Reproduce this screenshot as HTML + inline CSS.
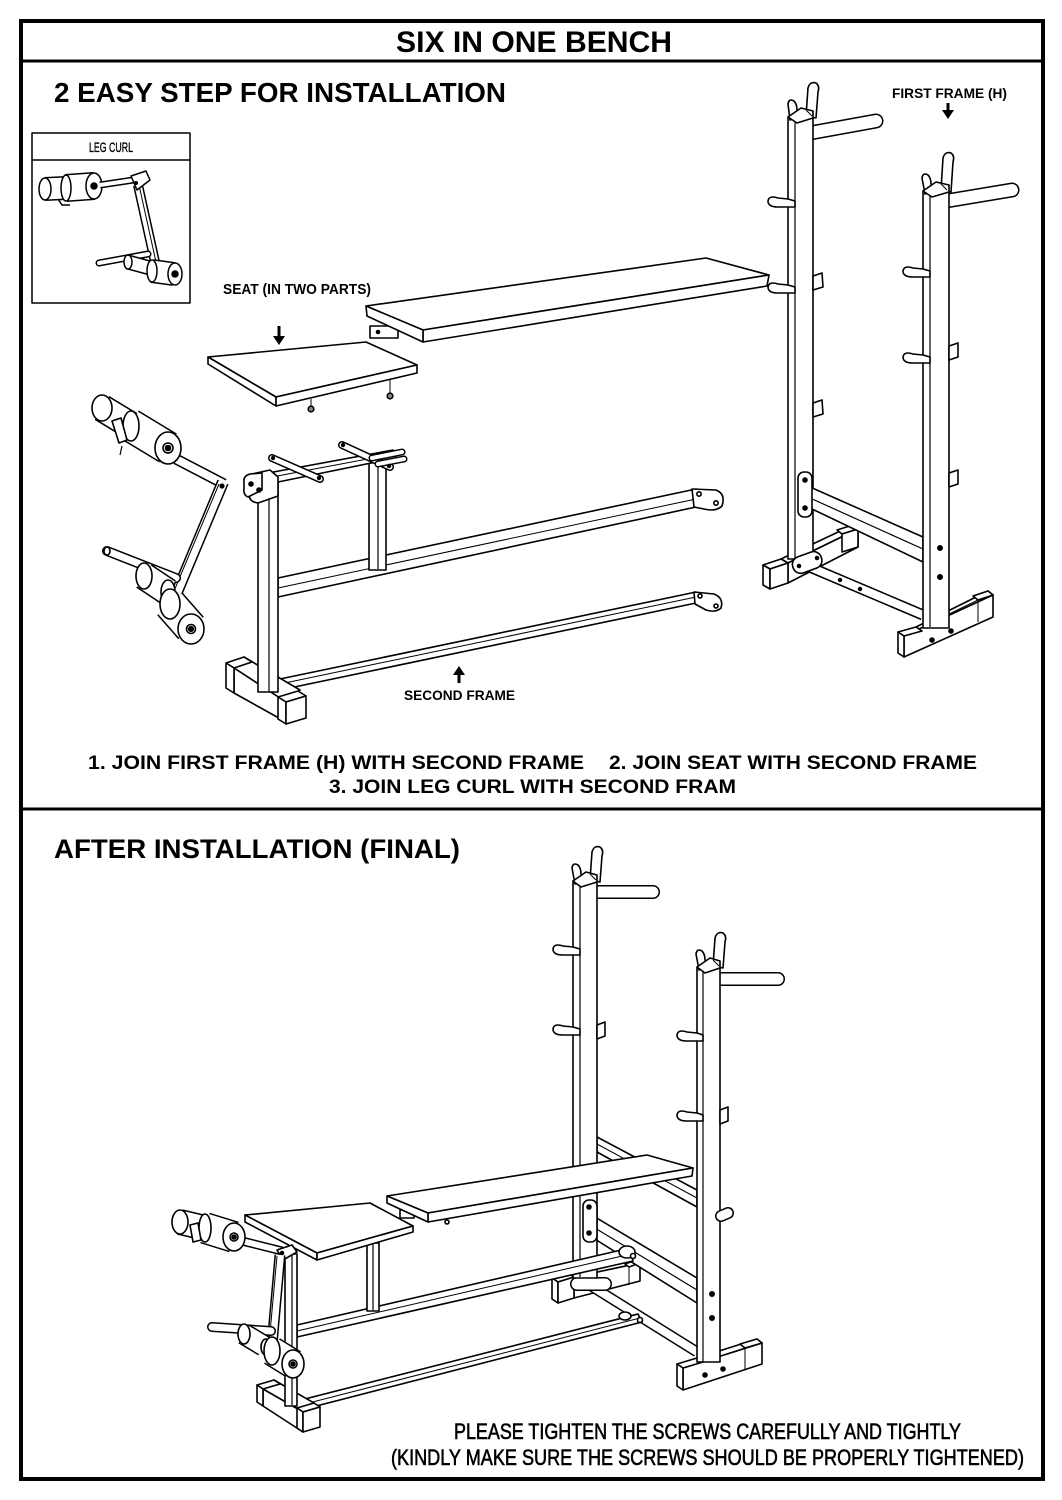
<!DOCTYPE html>
<html><head><meta charset="utf-8">
<style>
html,body{margin:0;padding:0;background:#fff;}
svg{display:block}
text{font-family:"Liberation Sans",Arial,sans-serif;fill:#000}
</style></head>
<body>
<svg width="1062" height="1500" viewBox="0 0 1062 1500" xmlns="http://www.w3.org/2000/svg">
<rect width="1062" height="1500" fill="#fff"/>
<rect x="21" y="21" width="1022" height="1458" fill="none" stroke="#000" stroke-width="4"/>
<line x1="21" y1="61" x2="1043" y2="61" stroke="#000" stroke-width="3"/>
<line x1="21" y1="809" x2="1043" y2="809" stroke="#000" stroke-width="3"/>

<!-- TEXT -->
<text x="396" y="52" font-size="30" font-weight="bold" textLength="276" lengthAdjust="spacingAndGlyphs">SIX IN ONE BENCH</text>
<text x="54" y="102" font-size="28" font-weight="bold" textLength="452" lengthAdjust="spacingAndGlyphs">2 EASY STEP FOR INSTALLATION</text>
<text x="89" y="152" font-size="14" stroke="#000" stroke-width="0.35" textLength="44" lengthAdjust="spacingAndGlyphs">LEG CURL</text>
<text x="223" y="294" font-size="15" font-weight="bold" textLength="148" lengthAdjust="spacingAndGlyphs">SEAT (IN TWO PARTS)</text>
<text x="892" y="98" font-size="14" font-weight="bold" textLength="115" lengthAdjust="spacingAndGlyphs">FIRST FRAME (H)</text>
<text x="404" y="700" font-size="14" font-weight="bold" textLength="111" lengthAdjust="spacingAndGlyphs">SECOND FRAME</text>
<text x="88" y="769" font-size="19" font-weight="bold" textLength="496" lengthAdjust="spacingAndGlyphs">1.  JOIN FIRST FRAME (H) WITH SECOND FRAME</text>
<text x="609" y="769" font-size="19" font-weight="bold" textLength="368" lengthAdjust="spacingAndGlyphs">2. JOIN SEAT WITH SECOND FRAME</text>
<text x="329" y="793" font-size="19" font-weight="bold" textLength="407" lengthAdjust="spacingAndGlyphs">3. JOIN LEG CURL WITH SECOND FRAM</text>
<text x="54" y="858" font-size="27" font-weight="bold" textLength="406" lengthAdjust="spacingAndGlyphs">AFTER INSTALLATION (FINAL)</text>
<text x="454" y="1439" font-size="22" stroke="#000" stroke-width="0.6" textLength="507" lengthAdjust="spacingAndGlyphs">PLEASE TIGHTEN THE SCREWS CAREFULLY AND TIGHTLY</text>
<text x="391" y="1465" font-size="22" stroke="#000" stroke-width="0.6" textLength="633" lengthAdjust="spacingAndGlyphs">(KINDLY MAKE SURE THE SCREWS SHOULD BE PROPERLY TIGHTENED)</text>

<!-- arrows -->
<g fill="#000" stroke="none">
<rect x="277.5" y="326" width="3" height="12"/><polygon points="273,336 285,336 279,345"/>
<rect x="946.5" y="103" width="3" height="9"/><polygon points="942,110 954,110 948,119"/>
<polygon points="453,675 465,675 459,666"/><rect x="457.5" y="673" width="3" height="10"/>
</g>

<!-- LEG CURL INSET -->
<g fill="#fff" stroke="#000" stroke-width="1.5" stroke-linejoin="round">
<rect x="32" y="133" width="158" height="170" fill="none"/>
<line x1="32" y1="160" x2="190" y2="160"/>
<line x1="45" y1="189" x2="66" y2="188" stroke-width="24"/>
<line x1="45" y1="189" x2="66" y2="188" stroke="#fff" stroke-width="21"/>
<ellipse cx="45" cy="189" rx="6" ry="11"/>
<line x1="66" y1="188" x2="94" y2="186" stroke-width="28"/>
<line x1="66" y1="188" x2="94" y2="186" stroke="#fff" stroke-width="25"/>
<ellipse cx="66" cy="188" rx="5" ry="13"/>
<ellipse cx="94" cy="186" rx="8" ry="13"/>
<circle cx="94" cy="186" r="3" fill="#000"/>
<polyline points="58,199 62,205 70,205" fill="none"/>
<line x1="100" y1="185" x2="140" y2="179" stroke-width="7"/>
<line x1="100" y1="185" x2="140" y2="179" stroke="#fff" stroke-width="4"/>
<line x1="138" y1="185" x2="155" y2="262" stroke-width="10"/>
<line x1="138" y1="185" x2="155" y2="262" stroke="#fff" stroke-width="7"/>
<line x1="139" y1="185" x2="156" y2="262" stroke-width="1"/>
<polygon points="131,176 146,171 150,180 137,190"/>
<circle cx="136" cy="183" r="1.3" fill="#000"/>
<line x1="99" y1="263" x2="148" y2="254" stroke-width="7" stroke-linecap="round"/>
<line x1="99" y1="263" x2="148" y2="254" stroke="#fff" stroke-width="4" stroke-linecap="round"/>
<line x1="128" y1="262" x2="150" y2="268" stroke-width="15"/>
<line x1="128" y1="262" x2="150" y2="268" stroke="#fff" stroke-width="12"/>
<ellipse cx="128" cy="262" rx="4" ry="7"/>
<line x1="152" y1="271" x2="174" y2="274" stroke-width="24"/>
<line x1="152" y1="271" x2="174" y2="274" stroke="#fff" stroke-width="21"/>
<ellipse cx="152" cy="271" rx="5" ry="11"/>
<ellipse cx="175" cy="274" rx="7" ry="11"/>
<circle cx="175" cy="274" r="3" fill="#000"/>
</g>

<!-- TOP SECTION DRAWING -->
<g fill="#fff" stroke="#000" stroke-width="1.6" stroke-linejoin="round">

<!-- long seat -->
<rect x="370" y="326" width="28" height="12"/>
<circle cx="378" cy="332" r="1.5" fill="#000"/>
<polygon points="366,306 706,258 769,275 423,330"/>
<polygon points="423,330 769,275 767,286 423,342"/>
<polygon points="366,306 423,330 423,342 367,316"/>

<!-- small seat -->
<polygon points="208,357 366,342 417,365 276,397"/>
<polygon points="208,357 276,397 276,406 208,364"/>
<polygon points="276,397 417,365 417,373 276,406"/>
<line x1="311" y1="399" x2="311" y2="406" stroke-width="1"/>
<circle cx="311" cy="409" r="2.8" fill="#888"/>
<line x1="390" y1="380" x2="390" y2="393" stroke-width="1"/>
<circle cx="390" cy="396" r="2.8" fill="#888"/>

<!-- big leg curl -->
<line x1="102" y1="408" x2="130" y2="425" stroke-width="28"/>
<line x1="102" y1="408" x2="130" y2="425" stroke="#fff" stroke-width="25"/>
<ellipse cx="102" cy="408" rx="10" ry="13"/>
<line x1="130" y1="425" x2="168" y2="448" stroke-width="34"/>
<line x1="130" y1="425" x2="168" y2="448" stroke="#fff" stroke-width="31"/>
<ellipse cx="131" cy="426" rx="8" ry="15"/>
<polygon points="112,421 121,418 127,440 119,443"/>
<line x1="122" y1="446" x2="120" y2="455" stroke-width="1.2"/>
<line x1="176" y1="459" x2="224" y2="484" stroke-width="11"/>
<line x1="176" y1="459" x2="224" y2="484" stroke="#fff" stroke-width="8"/>
<ellipse cx="168" cy="448" rx="13" ry="16"/>
<circle cx="168" cy="448" r="5"/>
<circle cx="168" cy="448" r="2.5" fill="#000"/>
<line x1="223" y1="482" x2="177" y2="592" stroke-width="12"/>
<line x1="223" y1="482" x2="177" y2="592" stroke="#fff" stroke-width="9"/>
<line x1="219" y1="484" x2="174" y2="591" stroke-width="1"/>
<circle cx="222" cy="486" r="1.8" fill="#000"/>
<line x1="107" y1="551" x2="176" y2="578" stroke-width="10" stroke-linecap="round"/>
<line x1="107" y1="551" x2="176" y2="578" stroke="#fff" stroke-width="7" stroke-linecap="round"/>
<ellipse cx="107" cy="551" rx="3" ry="4"/>
<line x1="144" y1="576" x2="168" y2="592" stroke-width="28"/>
<line x1="144" y1="576" x2="168" y2="592" stroke="#fff" stroke-width="25"/>
<ellipse cx="144" cy="576" rx="8" ry="13"/>
<ellipse cx="168" cy="592" rx="7" ry="12"/>
<line x1="170" y1="604" x2="191" y2="628" stroke-width="34"/>
<line x1="170" y1="604" x2="191" y2="628" stroke="#fff" stroke-width="31"/>
<ellipse cx="170" cy="604" rx="10" ry="15"/>
<ellipse cx="191" cy="629" rx="13" ry="15"/>
<circle cx="191" cy="629" r="4.5"/>
<circle cx="191" cy="629" r="2.3" fill="#000"/>

<!-- second frame (top) -->
<polygon points="278,578 696,489 696,507 278,597"/>
<line x1="278" y1="588" x2="696" y2="499" stroke-width="1"/>
<path d="M692,489 L716,490 Q726,494 722,506 Q716,512 704,509 L694,507 Z"/>
<circle cx="699" cy="494" r="2.2"/><circle cx="716" cy="503" r="2.2"/>
<polygon points="280,679 696,592 696,603 280,690"/>
<line x1="280" y1="684" x2="696" y2="597" stroke-width="1"/>
<path d="M694,592 L714,594 Q724,598 721,608 Q716,613 706,610 L695,604 Z"/>
<circle cx="700" cy="596" r="2"/><circle cx="716" cy="606" r="2"/>
<!-- foot -->
<polygon points="244,657 300,690 286,702 234,668"/>
<polygon points="234,668 286,702 286,722 234,693"/>
<polygon points="226,663 244,657 252,662 234,668"/>
<polygon points="226,663 234,668 234,693 226,688"/>
<polygon points="278,697 298,691 306,696 286,702"/>
<polygon points="278,697 286,702 286,724 278,719"/>
<polygon points="286,702 306,696 306,718 286,724"/>
<!-- posts -->
<rect x="258" y="477" width="20" height="215"/>
<line x1="269" y1="479" x2="269" y2="692" stroke-width="1.2"/>
<rect x="369" y="460" width="17" height="110"/>
<line x1="378" y1="461" x2="378" y2="569" stroke-width="1.2"/>
<!-- top rail -->
<polygon points="268,473 393,450 396,458 278,482"/>
<line x1="272" y1="477" x2="394" y2="454" stroke-width="1"/>
<line x1="342" y1="445" x2="390" y2="467" stroke-width="8" stroke-linecap="round"/>
<line x1="342" y1="445" x2="390" y2="467" stroke="#fff" stroke-width="5" stroke-linecap="round"/>
<line x1="372" y1="458" x2="402" y2="452" stroke-width="7" stroke-linecap="round"/>
<line x1="372" y1="458" x2="402" y2="452" stroke="#fff" stroke-width="4" stroke-linecap="round"/>
<line x1="378" y1="464" x2="404" y2="459" stroke-width="7" stroke-linecap="round"/>
<line x1="378" y1="464" x2="404" y2="459" stroke="#fff" stroke-width="4" stroke-linecap="round"/>
<line x1="272" y1="458" x2="320" y2="479" stroke-width="8" stroke-linecap="round"/>
<line x1="272" y1="458" x2="320" y2="479" stroke="#fff" stroke-width="5" stroke-linecap="round"/>
<circle cx="273" cy="458" r="1.4" fill="#000"/><circle cx="319" cy="478" r="1.4" fill="#000"/>
<circle cx="343" cy="445" r="1.4" fill="#000"/><circle cx="389" cy="466" r="1.4" fill="#000"/>
<!-- brackets -->
<path d="M252,474 L270,470 L278,477 L278,496 L258,503 Q249,502 249,494 Z"/>
<path d="M244,482 Q243,476 250,474 L262,473 L262,490 L248,497 Q243,495 244,488 Z"/>
<circle cx="251" cy="484" r="2" fill="#000"/><circle cx="259" cy="490" r="2" fill="#000"/>

<!-- FIRST FRAME H (top) -->
<polygon points="781,559 853,525 858,529 788,563"/>
<polygon points="788,563 858,529 858,547 788,583"/>
<polygon points="763,565 781,559 788,563 770,569"/>
<polygon points="763,565 770,569 770,589 763,585"/>
<polygon points="770,569 788,563 788,583 770,589"/>
<polygon points="837,530 853,525 858,529 842,534"/>
<polygon points="842,534 858,529 858,547 842,552"/>
<line x1="810" y1="133" x2="876" y2="121" stroke-width="15" stroke-linecap="round"/>
<line x1="810" y1="133" x2="876" y2="121" stroke="#fff" stroke-width="12" stroke-linecap="round"/>
<line x1="946" y1="201" x2="1012" y2="190" stroke-width="15" stroke-linecap="round"/>
<line x1="946" y1="201" x2="1012" y2="190" stroke="#fff" stroke-width="12" stroke-linecap="round"/>
<rect x="788" y="117" width="25" height="442"/>
<line x1="795" y1="118" x2="795" y2="558" stroke-width="1.2"/>
<path d="M790,120 L788,104 Q789,98 794,101 Q797,104 797,110 L800,116 Z"/>
<path d="M806,116 L808,88 Q810,81 816,83 Q820,86 818,92 L816,118 Z"/>
<polygon points="788,117 801,108 813,111 813,118 797,123"/>
<line x1="806" y1="110" x2="812" y2="116" stroke-width="1"/>
<path d="M788,199 L778,198 Q769,195 768,201 Q768,207 778,207 L795,207 L795,201 Z"/>
<path d="M788,285 L778,284 Q769,281 768,287 Q768,293 778,293 L795,293 L795,287 Z"/>
<polygon points="813,276 822,273 823,287 813,290"/>
<polygon points="813,403 822,400 823,414 813,417"/>
<polygon points="810,487 923,537 923,562 810,508"/>
<line x1="810" y1="498" x2="923" y2="549" stroke-width="1.2"/>
<rect x="798" y="472" width="14" height="45" rx="6"/>
<circle cx="805" cy="480" r="2" fill="#000"/><circle cx="805" cy="508" r="2" fill="#000"/>
<line x1="805" y1="565" x2="923" y2="615" stroke-width="11"/>
<line x1="805" y1="565" x2="923" y2="615" stroke="#fff" stroke-width="8"/>
<circle cx="840" cy="580" r="1.4" fill="#000"/><circle cx="860" cy="589" r="1.4" fill="#000"/>
<rect x="792" y="554" width="30" height="17" rx="8" transform="rotate(-20 807 562)"/>
<circle cx="799" cy="566" r="1.5" fill="#000"/><circle cx="817" cy="558" r="1.5" fill="#000"/>
<polygon points="916,627 988,591 993,595 922,631"/>
<polygon points="904,636 993,595 993,617 904,657"/>
<line x1="904" y1="636" x2="978" y2="600" stroke-width="1"/>
<polygon points="898,632 916,627 922,631 904,636"/>
<polygon points="898,632 904,636 904,657 898,653"/>
<polygon points="973,596 988,591 993,595 978,600"/>
<line x1="978" y1="600" x2="978" y2="622" stroke-width="1"/>
<circle cx="932" cy="640" r="2" fill="#000"/><circle cx="951" cy="631" r="2" fill="#000"/>
<rect x="923" y="191" width="26" height="437"/>
<line x1="930" y1="192" x2="930" y2="627" stroke-width="1.2"/>
<path d="M925,194 L922,178 Q923,172 928,175 Q931,178 931,184 L934,190 Z"/>
<path d="M941,190 L943,158 Q945,151 951,153 Q955,156 953,162 L951,192 Z"/>
<polygon points="923,191 936,182 949,185 949,192 932,197"/>
<line x1="941" y1="184" x2="947" y2="190" stroke-width="1"/>
<path d="M923,269 L913,268 Q904,265 903,271 Q903,277 913,277 L930,277 L930,271 Z"/>
<path d="M923,355 L913,354 Q904,351 903,357 Q903,363 913,363 L930,363 L930,357 Z"/>
<polygon points="949,346 958,343 958,357 949,360"/>
<polygon points="949,473 958,470 958,484 949,487"/>
<circle cx="940" cy="548" r="2.2" fill="#000"/><circle cx="940" cy="577" r="2.2" fill="#000"/>
</g>

<!-- BOTTOM SECTION DRAWING -->
<g fill="#fff" stroke="#000" stroke-width="1.6" stroke-linejoin="round">
<line x1="595" y1="892" x2="653" y2="892" stroke-width="14" stroke-linecap="round"/>
<line x1="595" y1="892" x2="653" y2="892" stroke="#fff" stroke-width="11" stroke-linecap="round"/>
<line x1="718" y1="979" x2="778" y2="979" stroke-width="14" stroke-linecap="round"/>
<line x1="718" y1="979" x2="778" y2="979" stroke="#fff" stroke-width="11" stroke-linecap="round"/>
<polygon points="568,1273 636,1260 640,1263 574,1277"/>
<polygon points="574,1277 640,1263 640,1281 574,1298"/>
<polygon points="552,1278 568,1273 574,1277 558,1282"/>
<polygon points="552,1278 558,1282 558,1303 552,1299"/>
<polygon points="558,1282 574,1277 574,1298 558,1303"/>
<polygon points="625,1264 636,1260 640,1263 629,1267"/>
<line x1="629" y1="1267" x2="629" y2="1285" stroke-width="1"/>
<polygon points="597,1137 697,1190 697,1207 597,1152"/>
<line x1="597" y1="1144" x2="697" y2="1198" stroke-width="1"/>
<polygon points="590,1214 697,1278 697,1303 590,1236"/>
<line x1="590" y1="1225" x2="697" y2="1290" stroke-width="1.2"/>
<line x1="588" y1="1284" x2="697" y2="1352" stroke-width="11"/>
<line x1="588" y1="1284" x2="697" y2="1352" stroke="#fff" stroke-width="8"/>
<line x1="577" y1="1284" x2="605" y2="1284" stroke-width="14" stroke-linecap="round"/>
<line x1="577" y1="1284" x2="605" y2="1284" stroke="#fff" stroke-width="11" stroke-linecap="round"/>
<rect x="573" y="881" width="24" height="397"/>
<line x1="580" y1="882" x2="580" y2="1277" stroke-width="1.2"/>
<path d="M575,884 L572,868 Q573,862 578,865 Q581,868 581,874 L584,880 Z"/>
<path d="M590,880 L592,852 Q594,845 600,847 Q604,850 602,856 L600,882 Z"/>
<polygon points="573,881 586,872 597,875 597,882 581,887"/>
<line x1="590" y1="874" x2="596" y2="880" stroke-width="1"/>
<path d="M573,947 L563,946 Q554,943 553,949 Q553,955 563,955 L580,955 L580,949 Z"/>
<path d="M573,1027 L563,1026 Q554,1023 553,1029 Q553,1035 563,1035 L580,1035 L580,1029 Z"/>
<polygon points="597,1025 605,1022 605,1036 597,1039"/>
<rect x="583" y="1200" width="14" height="42" rx="6"/>
<circle cx="589" cy="1207" r="2" fill="#000"/><circle cx="589" cy="1233" r="2" fill="#000"/>
<polygon points="697,1358 757,1339 762,1343 703,1362"/>
<polygon points="683,1368 762,1343 762,1364 683,1390"/>
<line x1="683" y1="1368" x2="745" y2="1348" stroke-width="1"/>
<polygon points="677,1364 697,1358 703,1362 683,1368"/>
<polygon points="677,1364 683,1368 683,1390 677,1386"/>
<polygon points="740,1344 757,1339 762,1343 745,1348"/>
<line x1="745" y1="1348" x2="745" y2="1369" stroke-width="1"/>
<circle cx="705" cy="1375" r="2" fill="#000"/><circle cx="723" cy="1369" r="2" fill="#000"/>
<rect x="697" y="967" width="23" height="395"/>
<line x1="703" y1="968" x2="703" y2="1362" stroke-width="1.2"/>
<path d="M699,970 L696,954 Q697,948 702,951 Q705,954 705,960 L708,966 Z"/>
<path d="M713,966 L715,938 Q717,931 723,933 Q727,936 725,942 L723,968 Z"/>
<polygon points="697,967 710,958 720,961 720,968 705,973"/>
<line x1="713" y1="960" x2="719" y2="966" stroke-width="1"/>
<path d="M697,1033 L687,1032 Q678,1029 677,1035 Q677,1041 687,1041 L703,1041 L703,1035 Z"/>
<path d="M697,1113 L687,1112 Q678,1109 677,1115 Q677,1121 687,1121 L703,1121 L703,1115 Z"/>
<polygon points="720,1110 728,1107 728,1121 720,1124"/>
<line x1="721" y1="1216" x2="728" y2="1213" stroke-width="12" stroke-linecap="round"/>
<line x1="721" y1="1216" x2="728" y2="1213" stroke="#fff" stroke-width="9" stroke-linecap="round"/>
<circle cx="712" cy="1294" r="2.2" fill="#000"/><circle cx="712" cy="1318" r="2.2" fill="#000"/>

<polygon points="297,1325 630,1248 633,1261 297,1337"/>
<line x1="297" y1="1331" x2="631" y2="1254" stroke-width="1"/>
<ellipse cx="627" cy="1252" rx="8" ry="6"/>
<circle cx="633" cy="1256" r="2.5"/>
<polygon points="297,1401 638,1314 642,1322 297,1411"/>
<line x1="297" y1="1406" x2="640" y2="1318" stroke-width="1"/>
<ellipse cx="625" cy="1316" rx="6" ry="4"/>
<circle cx="640" cy="1320" r="2.5"/>
<polygon points="274,1380 314,1403 303,1412 263,1389"/>
<polygon points="263,1389 303,1412 303,1432 263,1406"/>
<polygon points="257,1385 274,1380 280,1384 263,1389"/>
<polygon points="257,1385 263,1389 263,1406 257,1402"/>
<polygon points="297,1408 314,1403 320,1407 303,1412"/>
<polygon points="297,1408 303,1412 303,1432 297,1428"/>
<polygon points="303,1412 320,1407 320,1427 303,1432"/>
<rect x="285" y="1254" width="12" height="152"/>
<line x1="292" y1="1255" x2="292" y2="1405" stroke-width="1.2"/>
<rect x="367" y="1243" width="12" height="68"/>
<line x1="373" y1="1244" x2="373" y2="1310" stroke-width="1.2"/>

<rect x="400" y="1210" width="14" height="8"/>
<line x1="447" y1="1215" x2="447" y2="1221" stroke-width="1"/>
<circle cx="447" cy="1222" r="2"/>
<polygon points="387,1196 647,1155 693,1168 428,1213"/>
<polygon points="428,1213 693,1168 692,1176 428,1222"/>
<polygon points="387,1196 428,1213 428,1222 387,1203"/>

<polygon points="245,1215 370,1203 413,1226 317,1253"/>
<polygon points="245,1215 317,1253 317,1260 245,1222"/>
<polygon points="317,1253 413,1226 413,1232 317,1260"/>

<line x1="180" y1="1222" x2="205" y2="1228" stroke-width="26"/>
<line x1="180" y1="1222" x2="205" y2="1228" stroke="#fff" stroke-width="23"/>
<ellipse cx="180" cy="1222" rx="8" ry="12"/>
<line x1="205" y1="1228" x2="234" y2="1237" stroke-width="32"/>
<line x1="205" y1="1228" x2="234" y2="1237" stroke="#fff" stroke-width="29"/>
<ellipse cx="205" cy="1228" rx="6" ry="14"/>
<polygon points="190,1225 198,1223 201,1240 193,1242"/>
<line x1="242" y1="1241" x2="282" y2="1251" stroke-width="9"/>
<line x1="242" y1="1241" x2="282" y2="1251" stroke="#fff" stroke-width="6"/>
<ellipse cx="234" cy="1237" rx="11" ry="14"/>
<circle cx="234" cy="1237" r="4"/>
<circle cx="234" cy="1237" r="2" fill="#000"/>
<polygon points="277,1250 292,1245 297,1252 283,1260"/>
<circle cx="282" cy="1253" r="1.5" fill="#000"/>
<line x1="280" y1="1255" x2="272" y2="1345" stroke-width="11"/>
<line x1="280" y1="1255" x2="272" y2="1345" stroke="#fff" stroke-width="8"/>
<line x1="277" y1="1256" x2="269" y2="1344" stroke-width="1"/>
<line x1="212" y1="1327" x2="271" y2="1331" stroke-width="10" stroke-linecap="round"/>
<line x1="212" y1="1327" x2="271" y2="1331" stroke="#fff" stroke-width="7" stroke-linecap="round"/>
<line x1="244" y1="1334" x2="264" y2="1346" stroke-width="22"/>
<line x1="244" y1="1334" x2="264" y2="1346" stroke="#fff" stroke-width="19"/>
<ellipse cx="244" cy="1334" rx="6" ry="10"/>
<ellipse cx="266" cy="1347" rx="5" ry="8"/>
<line x1="272" y1="1351" x2="293" y2="1364" stroke-width="30"/>
<line x1="272" y1="1351" x2="293" y2="1364" stroke="#fff" stroke-width="27"/>
<ellipse cx="272" cy="1351" rx="8" ry="14"/>
<ellipse cx="293" cy="1364" rx="11" ry="14"/>
<circle cx="293" cy="1364" r="4"/>
<circle cx="293" cy="1364" r="2" fill="#000"/>
</g>
</svg>
</body></html>
